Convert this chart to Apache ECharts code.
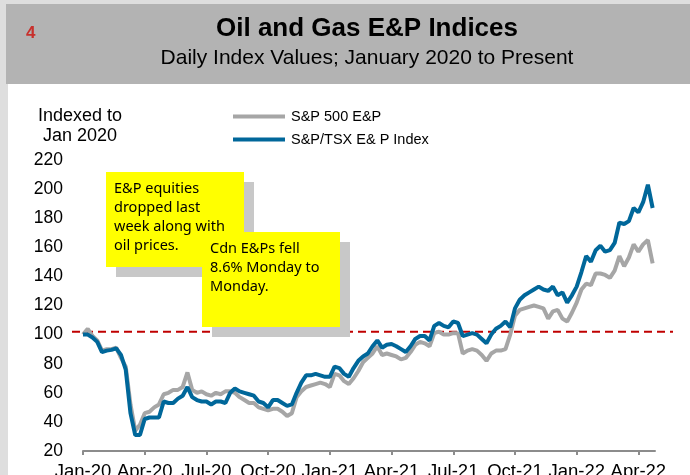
<!DOCTYPE html>
<html><head><meta charset="utf-8">
<script src="https://cdn.jsdelivr.net/npm/echarts@6/dist/echarts.min.js"></script>
<style>html,body{margin:0;padding:0;background:#dedede;}#c{width:690px;height:475px;}</style>
</head><body><div id="c"></div>
<script>
// Weekly samples starting the first week of January 2020 (x = week number)
const xTickLabels = ['Jan-20','Apr-20','Jul-20','Oct-20','Jan-21','Apr-21','Jul-21','Oct-21','Jan-22','Apr-22'];
const seriesNames = ['S&P 500 E&P', 'S&P/TSX E& P Index'];
const sp500EP = [100,104,99,96,89,90,90,91,84,78,52,34,38,46,47,50,52,59,60,62,62,64,74,62,60,61,59,58,60,59,61,61,60,57,55,53,53,50,49,48,49,49,47,44,46,57,61,64,65,66,67,66,64,73,72,68,66,70,75,81,84,87,92,86,87,86,85,83,84,88,93,95,94,92,101,102,100,100,101,101,87,89,90,89,86,82,87,89,89,90,100,113,117,118,119,120,119,118,111,116,117,111,109,115,122,131,135,134,142,142,141,139,144,154,147,153,162,157,162,165,149];
const tsxEP = [100,100,98,95,88,89,89.5,90.5,86,76,46,31,31,42,43,43,43,54,53,53,56,58,64,57,55,54,54,52,54,54,53,60,63,61,60,59,58,54,53,50,55,55,53,51,52,60,67,72,72,73,72,71,71,78,77,73,71,77,82,85,87,92,96,91,93,93.5,92,90,88,92,97,99,99,96,106,108,106,105,109,108,99,100,101,100,97,94,100,104,106,109,105,118,124,127,129,131,133,131,130,133,127,129,122,127,133,143,154,150,158,161,157,158,163,177,176,178,187,184,191,203,187];
const refLevel = 102;
const yTicks = {min: 20, max: 220, step: 20};

const toPts = arr => arr.map((v, i) => [i, v]);
const chart = echarts.init(document.getElementById('c'), null, {renderer: 'canvas'});
const FONT = "Arial, 'Liberation Sans', sans-serif";
const NOTE_FONT = "'Comic Sans MS', 'Noto Sans', sans-serif";

function note(x, y, w, h, text) {
  return [
    {type: 'rect', shape: {x: x + 10, y: y + 10, width: w, height: h}, style: {fill: '#c8c8c8'}, z: 100},
    {type: 'rect', shape: {x: x, y: y, width: w, height: h}, style: {fill: '#ffff00'}, z: 100},
    {type: 'text', x: x + 8, y: y + 7, style: {text: text, font: '14.5px ' + NOTE_FONT, fill: '#000', lineHeight: 19}, z: 101}
  ];
}

chart.setOption({
  backgroundColor: '#dedede',
  animation: false,
  title: [
    {text: 'Oil and Gas E&P Indices', subtext: 'Daily Index Values; January 2020 to Present',
     left: 362, top: 11, textAlign: 'center', itemGap: 6,
     textStyle: {fontFamily: FONT, fontSize: 26, fontWeight: 'bold', color: '#000'},
     subtextStyle: {fontFamily: FONT, fontSize: 21, color: '#000'}},
    {text: '4', left: 21, top: 20, textStyle: {fontFamily: FONT, fontSize: 17, fontWeight: 'bold', color: '#c8302c'}}
  ],
  graphic: [
    {type: 'rect', shape: {x: 8, y: 84, width: 682, height: 391}, style: {fill: '#ffffff'}, z: -10},
    {type: 'rect', shape: {x: 6, y: 4, width: 684, height: 80}, style: {fill: '#b3b3b3'}, z: -10},
    ...note(106, 172, 138, 95, 'E&P equities\ndropped last\nweek along with\noil prices.'),
    ...note(202, 232, 138, 95, 'Cdn E&Ps fell\n8.6% Monday to\nMonday.')
  ],
  legend: {
    orient: 'vertical', left: 228, top: 104, itemWidth: 52, itemHeight: 4, itemGap: 8,
    icon: 'rect',
    textStyle: {fontFamily: FONT, fontSize: 14.5, color: '#000', padding: [0, 0, 0, 1]},
    data: seriesNames
  },
  grid: [
    {left: 83, right: 35, top: 160, bottom: 24, outerBoundsMode: 'none', containLabel: false},
    {left: 72, right: 17, top: 160, bottom: 24, outerBoundsMode: 'none', containLabel: false}
  ],
  xAxis: [
    {type: 'value', gridIndex: 0, min: 0, max: 120.5, interval: 13,
     axisLine: {lineStyle: {color: '#8c8c8c', width: 2}},
     axisTick: {length: 4, lineStyle: {color: '#8c8c8c', width: 2}},
     splitLine: {show: false},
     axisLabel: {showMaxLabel: false, margin: 11, fontFamily: FONT, fontSize: 18.5, color: '#000',
       formatter: v => xTickLabels[Math.round(v / 13)] || ''}},
    {type: 'value', gridIndex: 1, min: 0, max: 1, show: false}
  ],
  yAxis: [
    {type: 'value', gridIndex: 0, min: yTicks.min, max: yTicks.max, interval: yTicks.step,
     name: 'Indexed to\nJan 2020', nameLocation: 'end', nameGap: 14,
     nameTextStyle: {fontFamily: FONT, fontSize: 18, color: '#000', align: 'center', lineHeight: 20, padding: [0, 0, 0, -6]},
     axisLine: {show: false}, axisTick: {show: false}, splitLine: {show: false},
     axisLabel: {margin: 20, fontFamily: FONT, fontSize: 17.5, color: '#000'}},
    {type: 'value', gridIndex: 1, min: yTicks.min, max: yTicks.max, show: false}
  ],
  series: [
    {name: seriesNames[0], type: 'line', data: toPts(sp500EP), showSymbol: false, symbol: 'none',
     lineStyle: {color: '#a6a6a6', width: 4}, itemStyle: {color: '#a6a6a6'}, z: 2},
    {name: seriesNames[1], type: 'line', data: toPts(tsxEP), showSymbol: false, symbol: 'none',
     lineStyle: {color: '#00679a', width: 4}, itemStyle: {color: '#00679a'}, z: 3},
    {name: 'ref', type: 'line', xAxisIndex: 1, yAxisIndex: 1, data: [[0, refLevel], [1, refLevel]],
     symbol: 'none', lineStyle: {color: '#c00000', width: 2, type: [8, 5]}, z: 1, silent: true}
  ]
});
</script></body></html>
